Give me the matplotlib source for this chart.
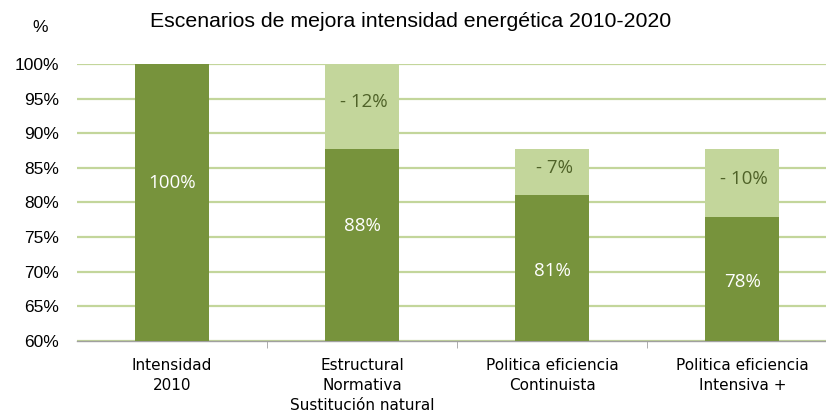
import matplotlib.pyplot as plt
import numpy as np

# data
categories = ["Intensidad\n2010", "Estructural\nNormativa\nSustitución natural",
              "Politica eficiencia\nContinuista", "Politica eficiencia\nIntensiva +"]
base_values = [100.0, 87.7, 81.1, 77.9]
saving_values = [0.0, 12.3, 6.6, 9.8]
base_labels = ["100%", "88%", "81%", "78%"]
saving_labels = ["", "- 12%", "- 7%", "- 10%"]
yticks = [60, 65, 70, 75, 80, 85, 90, 95, 100]

DARK = "#77933C"
LIGHT = "#C3D69B"
GRID = "#C3D69B"
TEXT_LIGHT = "#4F6228"
ARIAL = ["Liberation Sans", "DejaVu Sans"]

fig = plt.figure(figsize=(8.26, 4.12), dpi=100)
ax = fig.add_axes([0.0932, 0.1723, 0.9068, 0.6724])

x = np.arange(len(categories))
ax.bar(x, base_values, width=0.39, color=DARK, zorder=3)
ax.bar(x, saving_values, width=0.39, bottom=base_values, color=LIGHT, zorder=3)

# label heights (in data units) as placed in the reference
base_label_y = [82.8, 76.6, 70.1, 68.5]
for xi, yv, txt in zip(x, base_label_y, base_labels):
    ax.text(xi, yv, txt, ha="center", va="center", color="white",
            fontsize=13.5, family="Open Sans", zorder=4)
for xi, b, s, txt in zip(x, base_values, saving_values, saving_labels):
    if txt:
        ax.text(xi + 0.01, b + s / 2 + 0.6, txt, ha="center", va="center",
                color=TEXT_LIGHT, fontsize=13.5, family="Open Sans", zorder=4)

ax.set_ylim(60, 100)
ax.set_xlim(-0.5, 3.44)
ax.set_yticks(yticks)
ax.set_yticklabels([f"{v}%" for v in yticks], fontsize=12.5, family=ARIAL)
ax.yaxis.grid(True, color=GRID, linewidth=1.6, zorder=0)
ax.tick_params(axis="y", length=0, pad=13)

ax.set_xticks(x)
ax.set_xticklabels(categories, fontsize=11, family=["Liberation Sans Narrow", "DejaVu Sans"],
                   va="top", linespacing=1.45)
ax.set_xticks([0.5, 1.5, 2.5], minor=True)
ax.tick_params(axis="x", which="major", length=0, pad=12)
ax.tick_params(axis="x", which="minor", length=5, color="#A0A0A0", direction="out")

for side in ["top", "right", "left"]:
    ax.spines[side].set_visible(False)
ax.spines["bottom"].set_color("#A0A0A0")
ax.spines["bottom"].set_linewidth(1.0)

fig.text(0.497, 0.949, "Escenarios de mejora intensidad energética 2010-2020",
         ha="center", va="center", fontsize=15.3, family=ARIAL)
fig.text(0.048, 0.934, "%", ha="center", va="center", fontsize=12.5, family=ARIAL)

fig.savefig("out.png", dpi=100)
